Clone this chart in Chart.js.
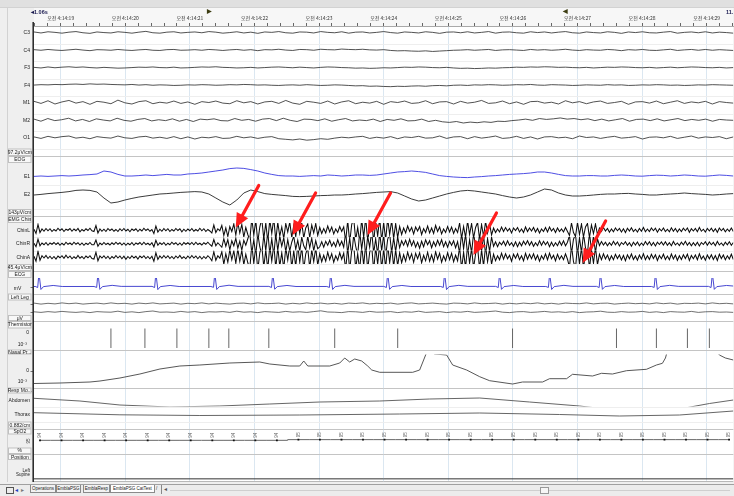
<!DOCTYPE html>
<html>
<head>
<meta charset="utf-8">
<script src="https://cdn.jsdelivr.net/npm/chart.js@4.4.1/dist/chart.umd.min.js"></script>
<style>
  html, body { margin:0; padding:0; background:#efefef; width:734px; height:496px; overflow:hidden; }
  #cv { position:absolute; left:0; top:0; }
  .hd { position:absolute; font:bold 5.5px "Liberation Sans", Arial, sans-serif; color:#1a1a50; white-space:nowrap; }
  #tabs { position:absolute; left:0; top:484px; width:734px; height:12px; background:#ececec; border-top:1px solid #a0a0a0; box-sizing:border-box; font:4.5px "Liberation Sans", Arial, sans-serif; color:#222; }
  #tabs span { position:absolute; white-space:nowrap; }
  .tab { top:0px; height:8px; line-height:8px; text-align:center; border:1px solid #8a8a8a; border-top:none; background:#f2f2f2; box-sizing:border-box; }
</style>
</head>
<body>
<canvas id="cv" width="734" height="484"></canvas>
<div class="hd" style="left:31px;top:9px;">◂1.06s</div>
<div class="hd" style="left:207px;top:7.5px;color:#3d3d12">▶</div>
<div class="hd" style="left:563px;top:7.5px;color:#3d3d12">◀</div>
<div class="hd" style="left:726px;top:9px;">11.</div>
<div id="tabs">
  <span style="left:6px;top:2px;width:6px;height:5px;border:1px solid #555;"></span>
  <span style="left:15px;top:1px;color:#2040c0;font-size:6px">◂</span>
  <span style="left:21px;top:1px;color:#777;font-size:6px">▸</span>
  <span class="tab" style="left:30px;width:26px">Operations</span>
  <span class="tab" style="left:56px;width:25px">EmblaPSG</span>
  <span class="tab" style="left:83px;width:27px">EmblaResp</span>
  <span class="tab" style="left:110px;width:45px;background:#fff">EmblaPSG CatTest</span>
  <span style="left:156px;top:1px">/</span>
  <span style="left:161px;top:0px;height:9px;border-left:1px solid #888"></span>
  <span style="left:164px;top:0px;color:#555;font-size:6px">◂</span>
  <span style="left:170px;top:5px;width:560px;height:0;border-top:1px solid #cfcfcf"></span>
  <span style="left:540px;top:2px;width:7px;height:5px;border:1px solid #999;background:#f6f6f6"></span>
</div>
<script>
// ---------------- DATA (time in seconds after 04:14:00) ----------------
const windowStart = 18.587, windowEnd = 29.413;
const clockPrefix = '오전 4:14:';

// EEG (µV), evenly sampled across the window
const c3 = [3,-2,4,1,-3,2,5,-1,-4,3,0,-2,4,1,-3,2,6,-1,-3,2,4,-2,1,3,-1,5,2,-3,0,4,-2,2,-4,3,1,5,-1,-3,3,2,-2,5,1,-1,4,-3,2,3,-2,1,5,0,-3,3,1,-2,4,1,-4,2,3,-1,4,-2,1,5,-3,2,3,-1,-3,4,0,3,-2,2,5,-1,-3,3,0,-2,4,1,-4,3,0,4,-1,-2,2,5,-3,1,3,-1,4,-2,2,0,-3];
const c4 = [2,-1,3,0,-2,1,4,0,-3,2,1,-1,3,0,-2,1,3,-1,-2,2,3,-1,0,2,-1,3,1,-2,1,3,-1,2,-3,2,1,4,0,-2,3,2,-1,4,2,1,5,3,2,4,1,0,2,-2,-4,-3,-5,-6,-4,-7,-5,-3,-1,0,2,-1,1,3,-2,1,2,0,-2,3,0,2,-1,1,4,0,-2,2,0,-1,3,1,-3,2,0,3,-1,-2,1,4,-2,1,3,-1,3,-1,2,0,-2];
const f3 = [1,-2,3,-1,2,4,1,3,0,-2,1,-1,-3,-2,0,2,1,3,0,-1,2,-2,-1,1,3,2,4,1,0,-2,-1,1,-2,0,2,3,1,-1,2,0,-2,1,3,2,0,-1,-3,-2,-4,-3,-1,-2,0,2,1,3,2,0,-1,1,-2,-4,-3,-5,-4,-2,-3,-1,0,2,1,3,2,4,3,1,2,0,-1,1,-2,0,2,1,3,2,0,-1,1,-2,0,2,-1,1,3,2,0,-1,1,-2,0];
const f4 = [0,2,1,3,2,4,5,3,6,4,5,3,2,1,3,0,2,-1,1,0,-2,-1,1,0,2,1,-1,0,2,1,3,2,0,1,-1,-2,0,1,-1,2,0,-2,-1,1,0,-2,-4,-3,-6,-5,-7,-8,-6,-7,-5,-4,-6,-3,-2,-4,-1,0,-2,1,0,2,1,-1,0,2,1,3,0,-1,2,1,0,-2,-1,1,0,-1,2,0,1,-2,-1,1,0,2,1,-1,0,-2,-1,1,0,2,1,0,-1];
const m1 = [4,-3,6,-5,2,7,-2,3,-6,4,1,-4,8,-1,-5,3,6,-4,1,-2,5,-3,2,-6,3,0,5,-2,-4,6,-1,3,-5,2,4,-3,7,-2,-6,4,1,-3,5,-5,2,6,-4,1,-2,4,-6,3,0,5,-3,-1,6,-4,2,3,-5,4,-2,1,7,-3,-1,5,-4,2,-6,3,4,-2,1,-5,6,-1,3,-4,2,5,-3,0,4,-6,2,3,-2,5,-4,1,6,-3,2,-1,4,-5,3,0,-2];
const m2 = [3,-4,5,-2,1,6,-3,2,-5,4,0,-3,6,-1,-4,2,5,-3,1,-2,4,-4,2,-5,3,1,4,-2,-3,5,-1,2,-4,3,5,-2,6,-1,-5,3,2,-2,4,-4,1,5,-3,0,-2,3,-5,2,-1,4,-3,-2,3,-5,-1,-6,-8,-5,-10,-7,-9,-6,-8,-4,-5,-2,0,3,-1,5,2,4,7,3,5,1,4,-2,3,-3,1,5,-4,2,3,-2,4,-3,1,5,-2,2,-1,3,-4,2,0,-1];
const o1 = [2,-3,4,-1,3,5,-2,1,-4,3,0,-2,5,-1,-3,2,4,-2,1,-3,3,-4,2,-5,1,-1,3,-3,-2,4,-1,2,-3,1,3,-4,-6,-8,-5,-9,-7,-4,-6,-2,1,-1,2,4,-3,1,-2,3,-4,2,0,4,-2,-1,5,-3,2,3,-4,3,-2,1,5,-3,-1,4,-3,2,-5,2,3,-1,1,-4,5,0,2,-3,1,4,-2,0,3,-5,1,2,-1,4,-3,1,5,-2,2,0,3,-4,2];

// EOG (µV)
const e1 = [-2,0,-2,0,2,0,2,5,7,10,25,20,8,0,0,2,5,2,5,8,5,5,10,12,15,20,25,30,37,40,38,32,25,15,8,2,0,0,-2,0,2,0,5,3,0,2,5,5,3,5,10,15,20,22,25,22,18,10,2,-2,-5,-7,-8,-5,-3,0,2,5,8,10,12,15,20,20,15,8,2,0,0,2,2,0,0,3,5,3,0,-1,2,4,3,0,2,5,3,0,-1,2,5,3,0];
const e2 = [-5,-2,2,5,8,12,18,20,18,10,-20,-45,-40,-30,-22,-15,-10,-5,0,2,5,8,10,12,10,0,-20,-40,-55,-30,5,20,12,2,-2,-5,-8,-12,-13,-12,-10,-8,-7,-5,-5,-3,0,2,5,8,10,12,5,-10,-25,-35,-30,-20,-10,0,8,15,18,15,10,5,0,-8,-15,-20,-15,-5,10,25,20,5,-5,-10,-10,-8,-5,-2,0,0,2,3,0,-2,-5,-5,-2,0,2,5,2,0,-2,-5,-3,0,2];

// EMG chin (µV), evenly sampled (dense)
const chinL = [3,-14,22,-10,4,-5,6,-3,5,-6, 2,-4,7,-2,5,-6,3,-1,6,-5, 4,-3,6,-7,2,-4,5,-2,7,-3, -6,18,-12,4,-5,3,-6,6,-2,4,
  -5,2,-6,5,-3,6,-4,3,-7,4, -2,5,-6,3,-4,7,-2,4,-5,2, -14,16,-8,3,-5,6,-3,5,-6,2, -4,6,-2,5,-7,3,-5,4,-3,6,
  -5,2,-4,7,-3,5,-6,2,-4,-12, 20,-10,5,-3,
  18,-22,8,-26,14,-6,24,-20,30,-12,22,-28,10,-18,
  -40,46,-20,38,-48,12,44,-36,28,-46,40,-14,48,-42,
  30,-24,12,-34,26,-8,32,-30,18,-26,34,-14,28,-32,8,24,-30,20,-12,26,-22,
  10,-14,6,-12,16,-8,12,-16,4,-10,14,-6,12,
  -44,38,-50,22,46,-40,10,-48,44,-30,50,-46,16,42,-50,36,-24,48,-44,30,-40,46,-18,38,-34,26,-30,
  14,-18,8,-12,16,-6,10,-16,12,-4,14,-18,6,-10,16,-12,8,-14,18,-6,12,-16,4,-10,14,-8,12,-14,6,-10,
  28,-34,14,-30,36,-18,26,-32,10,30,-36,22,-26,34,-12,24,-20,
  8,-10,4,-8,12,-6,10,-4,6,-12,8,-2,10,-8,4,-10,12,-6,8,-4,10,-8,6,-12,4,-6,10,-8,12,-4,6,-10,8,-6,4,-8,10,-6,
  -22,28,-10,-26,30,-18,24,-28,12,26,-30,20,-14,24,-18,
  8,-6,10,-4,6,-9,4,-7,8,-3,6,-8,5,-10,7,-4,9,-6,3,-8,6,-5,10,-7,4,-6,8,-3,7,-9,5,-4,8,-6,3,-7,9,-5,6,-8,4,-6,7,-3,8,-9,5,-4,6,-7,10,-5,3,-8,6,-4,7,-6,5,-9,8,-3,6,-7,4,-5,8,-6];
const chinR = [2,-12,18,-8,3,-4,5,-6,3,-2, 5,-3,4,-6,2,-5,6,-2,3,-4, 6,-2,4,-5,3,-6,2,-3,5,-4, -4,15,-10,3,-4,5,-3,2,-5,4,
  -3,6,-2,4,-5,3,-6,2,-4,5, -6,3,-2,5,-4,6,-3,2,-5,4, -12,14,-6,4,-3,5,-6,2,-4,6, -2,4,-5,3,-6,5,-2,4,-3,5,
  -4,6,-3,2,-5,4,-2,6,-3,-10, 17,-8,4,-5,
  -14,20,-10,16,-24,12,-8,22,-18,10,-26,14,-6,20,
  44,-38,16,-46,40,-12,-44,36,-28,48,-40,20,-46,38,
  -26,30,-10,24,-32,16,-28,6,30,-22,14,-30,26,-8,-24,30,-16,22,-28,12,-20,
  -12,8,-14,10,-6,14,-10,6,-12,16,-8,10,-14,
  46,-40,24,-50,36,-10,-46,48,-22,40,-48,30,-14,50,-38,20,-44,46,-28,36,-50,18,40,-36,24,-32,28,
  -16,12,-6,14,-10,18,-8,12,-14,6,-18,10,-12,16,-4,12,-16,8,-10,14,-6,16,-12,8,-14,10,-6,12,-16,8,
  -38,44,-20,40,-46,16,-36,42,-12,-40,46,-30,34,-44,20,-30,26,
  -10,8,-12,6,-4,10,-8,12,-6,4,-10,8,-12,6,-8,10,-4,12,-6,8,-10,4,-8,12,-6,10,-4,8,-12,6,-10,4,-8,10,-6,12,-8,6,
  34,-40,18,38,-44,24,-36,40,-16,-38,44,-26,30,-36,20,
  -7,9,-5,6,-8,4,-6,10,-4,7,-9,5,-3,8,-6,4,-10,6,-5,7,-8,3,-6,9,-4,8,-7,5,-9,6,-3,7,-5,8,-6,4,-8,9,-5,3,-7,6,-4,10,-6,5,-8,4,-7,6,-9,5,-3,8,-6,7,-4,5,-8,9,-5,3,-7,6,-4,8,-6,5];
const chinA = [4,-16,24,-12,6,-3,7,-5,4,-6, 3,-7,5,-2,6,-4,8,-3,5,-6, 2,-5,7,-4,3,-6,5,-2,6,-5, -7,20,-14,5,-3,6,-5,4,-7,3,
  -4,7,-3,5,-6,4,-8,3,-5,6, -3,4,-7,5,-2,6,-5,3,-6,4, -16,18,-9,5,-4,7,-3,6,-5,3, -6,5,-3,7,-5,2,-6,5,-4,7,
  -3,5,-6,4,-7,3,-5,6,-2,-14, 22,-12,6,-4,
  22,-28,14,-20,30,-10,26,-24,34,-16,28,-30,12,-22,
  -46,50,-24,44,-52,18,48,-40,30,-50,46,-16,52,-44,
  40,-36,18,-46,38,-12,48,-44,26,-38,50,-20,42,-48,14,36,-44,30,-18,38,-32,
  14,-18,8,-16,20,-10,14,-20,6,-12,18,-8,16,
  -50,44,-54,28,50,-46,14,-52,48,-34,54,-50,20,46,-54,40,-28,52,-48,34,-44,50,-22,42,-38,30,-34,
  18,-22,10,-16,20,-8,14,-20,16,-6,18,-22,8,-14,20,-16,10,-18,22,-8,16,-20,6,-14,18,-10,16,-18,8,-14,
  40,-46,20,-42,48,-24,36,-44,14,42,-48,30,-36,46,-18,34,-28,
  12,-14,6,-10,16,-8,14,-6,8,-16,12,-4,14,-10,6,-14,16,-8,12,-6,14,-10,8,-16,6,-8,14,-10,16,-6,8,-14,12,-8,6,-10,14,-8,
  -40,46,-18,-44,48,-28,40,-46,20,44,-48,32,-24,40,-30,
  12,-10,14,-7,9,-12,6,-10,12,-5,9,-11,7,-14,10,-6,13,-9,5,-12,9,-7,14,-10,6,-9,12,-5,10,-13,7,-6,12,-9,5,-10,13,-7,9,-12,6,-9,10,-5,12,-13,7,-6,9,-10,14,-7,5,-12,9,-6,10,-9,7,-13,12,-5,9,-10,6,-7,12,-9];

// ECG (mV)
const ecgTime = [18.587,
  18.604,18.644,18.664,18.694,18.734,18.884,19.024,
  19.517,19.557,19.577,19.607,19.647,19.797,19.937,
  20.414,20.454,20.474,20.504,20.544,20.694,20.834,
  21.326,21.366,21.386,21.416,21.456,21.606,21.746,
  22.223,22.263,22.283,22.313,22.353,22.503,22.643,
  23.120,23.160,23.180,23.210,23.250,23.400,23.540,
  24.002,24.042,24.062,24.092,24.132,24.282,24.422,
  24.883,24.923,24.943,24.973,25.013,25.163,25.303,
  25.734,25.774,25.794,25.824,25.864,26.014,26.154,
  26.510,26.550,26.570,26.600,26.640,26.790,26.930,
  27.296,27.336,27.356,27.386,27.426,27.576,27.716,
  28.147,28.187,28.207,28.237,28.277,28.427,28.567,
  29.028,29.068,29.088,29.118,29.158,29.308,29.413];
const ecgVal = [0,
  0.02,-0.08,1.17,-0.25,0,0.10,0.01,
  0.01,-0.07,1.15,-0.24,0,0.11,0.02,
  0.02,-0.08,1.18,-0.26,0,0.10,0.01,
  0.01,-0.06,1.16,-0.25,0,0.12,0.02,
  0.02,-0.08,1.14,-0.23,0,0.10,0.01,
  0.01,-0.07,1.17,-0.25,0,0.11,0.02,
  0.02,-0.08,1.15,-0.24,0,0.10,0.01,
  0.01,-0.07,1.16,-0.26,0,0.11,0.02,
  0.02,-0.08,1.13,-0.24,0,0.10,0.01,
  0.01,-0.07,1.15,-0.25,0,0.11,0.02,
  0.02,-0.08,1.17,-0.24,0,0.10,0.01,
  0.01,-0.07,1.16,-0.25,0,0.11,0.02,
  0.02,-0.08,1.15,-0.24,0,0.10,0.05];

// Left leg EMG (µV)
const leg1 = [2,-3,1,-2,3,-1,2,-3,0,2,-2,3,-1,1,-3,2,-1,3,-2,0,2,-3,1,-1,3,-2,2,-1,-3,1,2,-2,3,-1,0,2,-3,1,-2,3,-1,2,-2,1,-3,2,0,3,-2,1,-1,2,-3,1,3,-2,0,2,-1,-3,2,1,-2,3,-1,0,2,-3,1,-2,2,-1,3,-2,1,-3,2,0,-1,3,-2,1,2,-3,0,2,-1,1,-2,3,-1,2,-3,1,0,2,-2,3,-1,1,-2];
const leg2 = [1,-2,2,-1,3,0,-2,1,-3,2,0,-1,4,-2,1,-3,2,5,-1,0,-2,3,-1,2,-3,1,0,2,-2,4,-1,1,-3,2,0,-2,3,-1,1,-2,2,6,0,-1,-3,2,1,-2,3,-1,0,2,-3,1,-1,4,-2,0,2,-3,1,-1,3,-2,0,2,5,-1,-3,1,2,-2,0,3,-1,1,-2,2,-3,0,1,4,-1,-2,2,-1,0,3,-2,1,-3,2,0,-1,3,-2,1,2,-1,0,-2];

// Thermistor zero crossings (s)
const thermTime = [19.778,20.304,20.799,21.294,21.603,22.222,23.242,24.217,25.995,27.604,28.222,28.702,29.042];

// Nasal pressure (x10^-3)
const nasalTime = [18.587,18.989,19.453,19.608,19.917,20.226,20.536,20.845,21.154,21.618,22.082,22.237,22.546,22.701,22.763,22.825,23.165,23.320,23.397,23.474,23.552,23.660,23.753,23.815,23.939,24.449,24.557,24.666,24.712,24.790,24.975,25.068,25.284,25.486,25.640,25.996,26.150,26.460,26.568,26.831,26.924,27.233,27.372,27.542,27.759,28.068,28.223,28.315,28.362,28.393,28.455,28.965,29.043,29.151,29.197,29.290,29.413];
const nasalVal = [-1.25,-1.2,-1.1,-1.0,-0.7,-0.3,0.2,0.5,0.6,0.8,0.9,0.7,0.5,0.5,1.0,0.5,0.5,0.8,1.3,0.9,1.2,1.0,0.5,0.1,-0.13,-0.13,0.1,1.87,1.97,1.7,1.6,0.6,0.1,-0.57,-0.97,-1.3,-1.1,-1.1,-0.77,-0.77,-0.33,-0.5,-0.23,-0.3,0.03,0.17,0.6,0.77,1.3,2.03,2.1,2.1,2.1,2.03,1.6,1.3,1.1];

// Respiratory effort
const abdTime = [18.587,19.298,19.917,20.690,21.463,22.237,23.010,23.939,24.712,25.486,26.259,27.032,27.434,27.960,28.579,29.043,29.413];
const abdVal  = [1.7,-1,-5,-7,-6,-4,-2,-1,1,2,-2,-6,-9,-11.5,-9,-3.5,0];
const thoTime = [18.587,19.917,21.154,22.701,24.248,25.486,26.723,27.651,28.579,29.413];
const thoVal  = [1.3,-0.8,-1.5,-1,0,1,-0.5,-2,-1,3];

// SpO2 (%)
const spo2Time = [18.680,19.013,19.347,19.680,20.013,20.347,20.680,21.013,21.347,21.680,22.013,22.347,22.680,23.013,23.347,23.680,24.013,24.347,24.680,25.013,25.347,25.680,26.013,26.347,26.680,27.013,27.347,27.680,28.013,28.347,28.680,29.013,29.347];
const spo2Val  = [94,94,94,94,94,94,94,94,94,94,94,94,95,95,95,95,95,95,95,95,95,95,95,95,95,95,95,95,95,95,95,95,95];

// Body position (0 = Supine)
const posTime = [18.587, 29.413];
const posVal  = [0, 0];

// Arousal markers (red arrows): tip time, channel, value on that channel (µV)
const arrowTimes    = [21.71, 22.59, 23.75, 25.39, 27.08];
const arrowChannels = ['ChinL','ChinL','ChinL','ChinA','ChinA'];
const arrowValues   = [10, -20, -20, 9, -23];

// ---------------- LAYOUT (stacked channel bands, top to bottom) ----------------
const bands = [
  {id:'C3', h:17.5, min:-55, max:33, ch:'C3'},
  {id:'C4', h:17.5, min:-55, max:33, ch:'C4'},
  {id:'F3', h:17.5, min:-55, max:33, ch:'F3'},
  {id:'F4', h:17.5, min:-55, max:33, ch:'F4'},
  {id:'M1', h:17.5, min:-37, max:22, ch:'M1'},
  {id:'M2', h:17.5, min:-37, max:22, ch:'M2'},
  {id:'O1', h:17.5, min:-37, max:22, ch:'O1'},
  {id:'EEGf', h:7.5, box:'97.2μV/cm'},
  {id:'EOGh', h:7, box:'EOG', sep:true},
  {id:'E1', h:22, min:-45, max:65, ch:'E1'},
  {id:'E2', h:24, min:-75, max:45, ch:'E2'},
  {id:'EOGf', h:7, box:'143μV/cm'},
  {id:'EMGh', h:7, box:'EMG Chin', sep:true},
  {id:'ChinL', h:14, min:-28, max:28, ch:'ChinL'},
  {id:'ChinR', h:13.5, min:-27, max:27, ch:'ChinR'},
  {id:'ChinA', h:13.5, min:-27, max:27, ch:'ChinA'},
  {id:'EMGf', h:7, box:'45.4μV/cm'},
  {id:'ECGh', h:7, box:'ECG', sep:true},
  {id:'ECG', h:15.5, min:-0.6, max:0.75, notes:[{t:'mV', dy:10.3, x:17.5, a:'center'}], tick:true},
  {id:'Legh', h:7, box:'Left Leg', sep:true},
  {id:'Leg1', h:7, min:-20, max:15, tick:true},
  {id:'Leg2', h:7.5, min:-15, max:22.5, tick:true},
  {id:'Legf', h:6, box:'μV'},
  {id:'Thh', h:7.5, box:'Thermistor', sep:true},
  {id:'Th', h:21, min:-29, max:13, notes:[{t:'0', dy:4.2, x:29, a:'right'},{t:'10⁻³', dy:16.5, x:27, a:'right'}]},
  {id:'Nah', h:5, box:'Nasal Pr...', sep:true},
  {id:'Na', h:33, min:-1.65, max:1.65, notes:[{t:'0', dy:16.5, x:29, a:'right'},{t:'10⁻³', dy:27.2, x:27, a:'right'}], tick:true},
  {id:'Reh', h:6, box:'Resp Mo...', sep:true},
  {id:'Abd', h:13, min:-6.5, max:6.5, ch:'Abdomen'},
  {id:'Tho', h:15, min:-7.5, max:7.5, ch:'Thorax'},
  {id:'Ref', h:7, box:'0.882/cm'},
  {id:'Sph', h:6, box:'SpO2', sep:true},
  {id:'Sp', h:13, min:83.5, max:102.5},
  {id:'Spf', h:6.5, box:'%'},
  {id:'Poh', h:6, box:'Position', sep:true},
  {id:'Po', h:22, min:-0.2, max:1.2, notes:[{t:'Left', dy:11, x:30, a:'right'},{t:'Supine', dy:14.5, x:30, a:'right'}]}
];

// ---------------- BUILD ----------------
function evenTimes(n) { const a = []; for (let i = 0; i < n; i++) a.push(windowStart + (windowEnd - windowStart) * i / (n - 1)); return a; }
function even(vals) { const t = evenTimes(vals.length); return vals.map((v, i) => ({x: t[i], y: v})); }
function paired(ts, vs) { return ts.map((t, i) => ({x: t, y: vs[i]})); }

function line(label, data, axis, color, width) {
  return {label, data, yAxisID: axis, borderColor: color, borderWidth: width, pointRadius: 0, tension: 0, fill: false};
}

const datasets = [
  line('C3', even(c3), 'C3', '#262626', 0.8),
  line('C4', even(c4), 'C4', '#262626', 0.8),
  line('F3', even(f3), 'F3', '#262626', 0.8),
  line('F4', even(f4), 'F4', '#262626', 0.8),
  line('M1', even(m1), 'M1', '#262626', 0.8),
  line('M2', even(m2), 'M2', '#262626', 0.8),
  line('O1', even(o1), 'O1', '#262626', 0.8),
  line('E1', even(e1), 'E1', '#3a3ae0', 0.9),
  line('E2', even(e2), 'E2', '#262626', 0.9),
  line('ChinL', even(chinL), 'ChinL', '#0d0d0d', 1.05),
  line('ChinR', even(chinR), 'ChinR', '#0d0d0d', 1.05),
  line('ChinA', even(chinA), 'ChinA', '#0d0d0d', 1.05),
  line('ECG', paired(ecgTime, ecgVal), 'ECG', '#3333cc', 0.9),
  line('Leg1', even(leg1), 'Leg1', '#333', 0.7),
  line('Leg2', even(leg2), 'Leg2', '#333', 0.7),
  {label:'Thermistor', data: thermTime.map(t => ({x: t, y: 0})), yAxisID:'Th', showLine:false,
   pointStyle:'line', pointRotation:90, pointRadius:13, pointBorderColor:'#666', pointBorderWidth:1, pointBackgroundColor:'#666'},
  line('Nasal', paired(nasalTime, nasalVal), 'Na', '#444', 0.9),
  line('Abdomen', paired(abdTime, abdVal), 'Abd', '#555', 0.9),
  line('Thorax', paired(thoTime, thoVal), 'Tho', '#555', 0.9),
  {label:'SpO2', data: paired(spo2Time, spo2Val), yAxisID:'Sp', borderColor:'#666', borderWidth:1, stepped:'middle',
   pointStyle:'rect', pointRadius:1.3, pointBackgroundColor:'#111', pointBorderColor:'#111', pointBorderWidth:0},
  line('Position', paired(posTime, posVal), 'Po', '#333', 1)
];

const scales = {
  x: {
    type:'linear', position:'top', min: windowStart, max: windowEnd,
    afterFit: s => { s.height = 19; },
    ticks: {
      stepSize: 0.2, autoSkip:false, maxRotation:0, includeBounds:false, padding:1.5,
      color:'#333', font:{size:5, family:'"Noto Sans CJK KR", "Liberation Sans", sans-serif'},
      callback: v => Math.abs(v - Math.round(v)) < 1e-6 ? clockPrefix + String(Math.round(v)).padStart(2, '0') : ''
    },
    grid: {
      drawOnChartArea:true, tickLength:3, lineWidth:1, tickColor:'#666',
      color: c => (c.tick && Math.abs(c.tick.value - Math.round(c.tick.value)) < 1e-6) ? '#dbe7f1' : 'rgba(0,0,0,0)'
    },
    border: {display:true, color:'#a9a9a9'}
  }
};
bands.forEach((b, i) => {
  scales[b.id] = {type:'linear', position:'left', stack:'channels', stackWeight:b.h, weight: bands.length - i,
    display:false, min: b.min ?? 0, max: b.max ?? 1, offset:false};
});

const panelPlugin = {
  id:'panel',
  beforeDraw(chart) {
    const {ctx, chartArea:a} = chart;
    ctx.save();
    ctx.fillStyle = '#efefef'; ctx.fillRect(0, 0, chart.width, chart.height);
    ctx.fillStyle = '#e0e0e0'; ctx.fillRect(0, 0, chart.width, 7);
    ctx.fillStyle = '#f7f7f7'; ctx.fillRect(a.left, 7, a.right - a.left, a.top - 7);
    ctx.fillStyle = '#ffffff'; ctx.fillRect(a.left, a.top, a.right - a.left, a.bottom - a.top);
    ctx.strokeStyle = '#d2d2d2'; ctx.lineWidth = 1;
    ctx.beginPath(); ctx.moveTo(0, 7.5); ctx.lineTo(chart.width, 7.5); ctx.stroke();
    ctx.beginPath(); ctx.moveTo(7.5, 7.5); ctx.lineTo(7.5, a.bottom); ctx.stroke();
    ctx.restore();
  },
  beforeDatasetsDraw(chart) {
    const {ctx, chartArea:a} = chart;
    ctx.save();
    bands.forEach(b => {
      const s = chart.scales[b.id];
      if (b.sep) {
        ctx.strokeStyle = '#c4c4c4'; ctx.lineWidth = 1;
        ctx.beginPath(); ctx.moveTo(a.left, Math.round(s.top) + 0.5); ctx.lineTo(a.right, Math.round(s.top) + 0.5); ctx.stroke();
      } else if (b.ch) {
        ctx.strokeStyle = '#eeeeee'; ctx.lineWidth = 1;
        ctx.beginPath(); ctx.moveTo(a.left, Math.round(s.bottom) + 0.5); ctx.lineTo(a.right, Math.round(s.bottom) + 0.5); ctx.stroke();
      }
    });
    ctx.strokeStyle = '#b8b8b8';
    ctx.beginPath(); ctx.moveTo(a.left, a.bottom - 0.5); ctx.lineTo(a.right, a.bottom - 0.5); ctx.stroke();
    ctx.restore();
  },
  afterDatasetsDraw(chart) {
    const {ctx} = chart;
    const idx = chart.data.datasets.findIndex(d => d.label === 'SpO2');
    const meta = chart.getDatasetMeta(idx);
    ctx.save();
    ctx.fillStyle = '#666'; ctx.font = '4.5px "Liberation Sans", Arial, sans-serif';
    ctx.textAlign = 'center'; ctx.textBaseline = 'middle';
    meta.data.forEach((p, i) => {
      ctx.save(); ctx.translate(p.x, p.y - 5); ctx.rotate(-Math.PI / 2);
      ctx.fillText(String(spo2Val[i]), 0, 0); ctx.restore();
    });
    ctx.restore();
  },
  afterDraw(chart) {
    const {ctx, chartArea:a} = chart;
    ctx.save();
    ctx.textBaseline = 'middle';
    bands.forEach(b => {
      const s = chart.scales[b.id];
      const top = s.top, bot = s.bottom;
      if (b.box) {
        ctx.fillStyle = '#f8f8f8'; ctx.strokeStyle = '#c0c0c0'; ctx.lineWidth = 1;
        ctx.fillRect(8.5, top + 0.5, 22.5, bot - top - 1);
        ctx.strokeRect(8.5, top + 0.5, 22.5, bot - top - 1);
        ctx.fillStyle = '#202020'; ctx.font = '5px "Liberation Sans", Arial, sans-serif'; ctx.textAlign = 'center';
        ctx.fillText(b.box, 19.8, (top + bot) / 2 + 0.3);
      }
      if (b.ch) {
        ctx.fillStyle = '#202020'; ctx.font = '5px "Liberation Sans", Arial, sans-serif'; ctx.textAlign = 'right';
        ctx.fillText(b.ch, 30, s.getPixelForValue(0) + 0.3);
      }
      (b.notes || []).forEach(n => {
        ctx.fillStyle = '#202020'; ctx.font = (b.id === 'Po' ? '4.5px' : '5px') + ' "Liberation Sans", Arial, sans-serif';
        ctx.textAlign = n.a; ctx.fillText(n.t, n.x, top + n.dy);
      });
      if (b.tick) {
        ctx.strokeStyle = '#555'; ctx.lineWidth = 0.8;
        const y = Math.round(s.getPixelForValue(0)) + 0.5;
        ctx.beginPath(); ctx.moveTo(30.5, y); ctx.lineTo(33, y); ctx.stroke();
      }
      if (b.id === 'Sp') {
        ctx.save(); ctx.fillStyle = '#444'; ctx.font = '4.5px "Liberation Sans", Arial, sans-serif';
        ctx.translate(29, (top + bot) / 2); ctx.rotate(-Math.PI / 2); ctx.textAlign = 'center';
        ctx.fillText('95', 0, 0); ctx.restore();
      }
    });
    ctx.strokeStyle = '#222'; ctx.lineWidth = 1.5;
    ctx.beginPath(); ctx.moveTo(33.2, 22); ctx.lineTo(33.2, a.bottom); ctx.stroke();
    ctx.restore();
  }
};

const arrowPlugin = {
  id:'arrows',
  afterDraw(chart) {
    const {ctx, scales:{x}} = chart;
    ctx.save();
    ctx.strokeStyle = '#ff1d1d'; ctx.fillStyle = '#ff1d1d'; ctx.lineWidth = 3.2; ctx.lineCap = 'round';
    arrowTimes.forEach((t, i) => {
      const tx = x.getPixelForValue(t);
      const ty = chart.scales[arrowChannels[i]].getPixelForValue(arrowValues[i]);
      const sx = tx + 23, sy = ty - 42;
      const ang = Math.atan2(ty - sy, tx - sx);
      const head = 14, half = 6.5;
      const bx = tx - Math.cos(ang) * head, by = ty - Math.sin(ang) * head;
      ctx.beginPath(); ctx.moveTo(sx, sy); ctx.lineTo(bx, by); ctx.stroke();
      ctx.beginPath();
      ctx.moveTo(tx, ty);
      ctx.lineTo(bx + Math.sin(ang) * half, by - Math.cos(ang) * half);
      ctx.lineTo(bx - Math.sin(ang) * half, by + Math.cos(ang) * half);
      ctx.closePath(); ctx.fill();
    });
    ctx.restore();
  }
};

new Chart(document.getElementById('cv'), {
  type:'line',
  data:{datasets},
  options:{
    responsive:false, animation:false, events:[],
    layout:{autoPadding:false, padding:{top:7, left:34, right:0, bottom:2}},
    plugins:{legend:{display:false}, tooltip:{enabled:false}},
    scales
  },
  plugins:[panelPlugin, arrowPlugin]
});
</script>
</body>
</html>
